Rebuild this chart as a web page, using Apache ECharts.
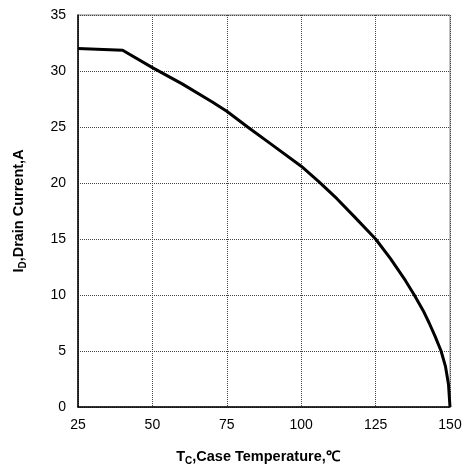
<!DOCTYPE html>
<html>
<head>
<meta charset="utf-8">
<script src="https://cdn.jsdelivr.net/npm/echarts@6/dist/echarts.min.js"></script>
<style>html,body{margin:0;padding:0;background:#fff}#c{width:464px;height:468px}</style>
</head>
<body>
<div id="c"></div>
<script>
const caseTemp = [25, 40, 50, 60, 70, 75, 82, 90, 100, 106, 112, 118, 125, 130, 135, 138, 141, 143, 145, 147, 148.5, 149.5, 150];
const drainCurrent = [32.0, 31.85, 30.3, 28.85, 27.25, 26.4, 25.0, 23.45, 21.5, 20.1, 18.6, 16.95, 15.0, 13.25, 11.3, 10.0, 8.6, 7.5, 6.3, 5.0, 3.6, 2.0, 0];
const xTicks = [25, 50, 75, 100, 125, 150];
const yTicks = [0, 5, 10, 15, 20, 25, 30, 35];

const chart = echarts.init(document.getElementById('c'), null, {renderer: 'canvas'});
const font = 'Liberation Sans, Arial, sans-serif';
const rich = {
  b: {fontSize: 14.5, fontWeight: 'bold', fontFamily: font, color: '#000'},
  s: {fontSize: 10, fontWeight: 'bold', fontFamily: font, color: '#000', padding: [9, 0, 0, 0]}
};
chart.setOption({
  animation: false,
  grid: {left: 78, right: 14, top: 15, bottom: 61, show: true, borderColor: '#808080', borderWidth: 1,
         containLabel: false, outerBoundsMode: 'none'},
  xAxis: {
    type: 'value', min: xTicks[0], max: xTicks[xTicks.length - 1], interval: 25,
    axisLine: {lineStyle: {color: '#000', width: 1.5}},
    axisTick: {show: false},
    axisLabel: {color: '#000', fontSize: 14, fontFamily: font, margin: 11},
    splitLine: {show: true, lineStyle: {color: '#444', type: [1, 1], width: 1}},
    name: '{b|T}{s|C}{b|,Case Temperature,℃}',
    nameLocation: 'middle', nameGap: 40,
    nameTextStyle: {rich: rich, padding: [0, 12, 0, 0]}
  },
  yAxis: {
    type: 'value', min: yTicks[0], max: yTicks[yTicks.length - 1], interval: 5,
    axisLine: {show: true, lineStyle: {color: '#000', width: 1.5}},
    axisTick: {show: false},
    axisLabel: {color: '#000', fontSize: 14, fontFamily: font, margin: 12},
    splitLine: {show: true, lineStyle: {color: '#444', type: [1, 1], width: 1}},
    name: '{b|I}{s|D}{b|,Drain Current,A}',
    nameLocation: 'middle', nameGap: 50, nameRotate: 90,
    nameTextStyle: {rich: rich}
  },
  series: [{
    type: 'line',
    data: caseTemp.map((t, i) => [t, drainCurrent[i]]),
    showSymbol: false,
    smooth: false,
    lineStyle: {color: '#000', width: 3, join: 'round'},
    z: 5
  }]
});
</script>
</body>
</html>
